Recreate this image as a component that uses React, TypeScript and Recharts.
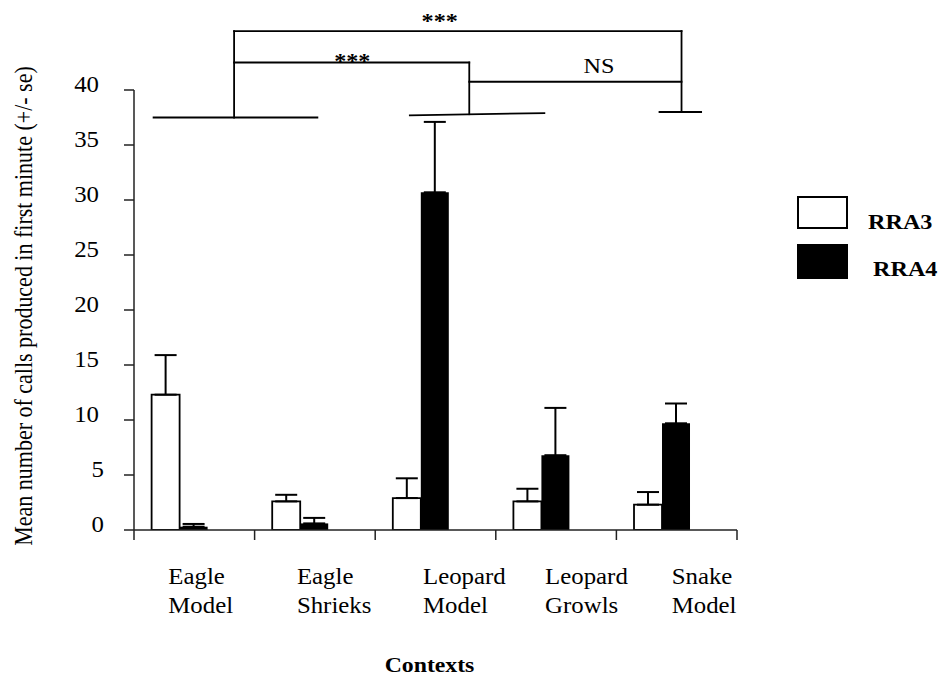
import React from 'react';
import { BarChart, Bar, XAxis, YAxis, ErrorBar, ReferenceLine, ReferenceDot, Legend } from 'recharts';

const FONT = '"Liberation Serif", "Times New Roman", serif';

// ---- data ----
const categories = ['Eagle Model', 'Eagle Shrieks', 'Leopard Model', 'Leopard Growls', 'Snake Model'];
const seriesNames = ['RRA3', 'RRA4'];
const rra3Means = [12.3, 2.6, 2.9, 2.6, 2.3];
const rra3Se = [3.6, 0.6, 1.8, 1.15, 1.15];
const rra4Means = [0.3, 0.6, 30.7, 6.8, 9.7];
const rra4Se = [0.25, 0.5, 6.4, 4.3, 1.8];
const yTicks = [0, 5, 10, 15, 20, 25, 30, 35, 40];
// numeric helper axis: integers = category boundaries, halves = category centres
const xBoundaryTicks = [0, 1, 2, 3, 4, 5];
const xCenterTicks = [0.5, 1.5, 2.5, 3.5, 4.5];

// significance brackets (x in category units, y in calls)
const groupLines = [
  { x1: 0.155, y1: 37.5, x2: 1.528, y2: 37.5 },
  { x1: 2.28, y1: 37.7, x2: 3.41, y2: 37.9 },
  { x1: 4.35, y1: 38.0, x2: 4.71, y2: 38.0 },
];
const bracketLines = [
  { x1: 0.83, y1: 37.5, x2: 0.83, y2: 45.36 },
  { x1: 0.83, y1: 45.36, x2: 4.54, y2: 45.36 },
  { x1: 4.54, y1: 45.36, x2: 4.54, y2: 38.0 },
  { x1: 0.83, y1: 42.5, x2: 2.78, y2: 42.5 },
  { x1: 2.78, y1: 42.5, x2: 2.78, y2: 37.8 },
  { x1: 2.78, y1: 40.75, x2: 4.54, y2: 40.75 },
];
const sigLabels = [
  { x: 2.535, y: 45.6, text: '***' },
  { x: 1.81, y: 42.0, text: '***' },
  { x: 3.856, y: 41.57, text: 'NS' },
];

const data = categories.map((name, i) => ({
  name,
  rra3: rra3Means[i],
  rra3Err: [0, rra3Se[i]],
  rra4: rra4Means[i],
  rra4Err: [0, rra4Se[i]],
}));

const xTicks = [...xBoundaryTicks, ...xCenterTicks].sort((a, b) => a - b);
const labelShift = [-26, -18, -12.5, -11, -5];
const FS = 23;

const XTick = (props: any) => {
  const { x, y, payload } = props;
  const v = payload.value;
  if (Number.isInteger(v)) {
    return <line x1={x} y1={y} x2={x} y2={y + 10} stroke="#222" strokeWidth={1.5} />;
  }
  const i = Math.floor(v);
  const words = categories[i].split(' ');
  const lx = x + labelShift[i];
  return (
    <g>
      {words.map((w, k) => (
        <text
          key={k}
          transform={`translate(${lx},${y + 53.5 + k * 29}) scale(1.08,1)`}
          fontSize={FS}
          fontFamily={FONT}
          fill="#000"
        >
          {w}
        </text>
      ))}
    </g>
  );
};

const YTick = (props: any) => {
  const { x, y, payload } = props;
  const s = String(payload.value);
  const dx = s.length === 1 ? 5 : 0;
  return (
    <text
      transform={`translate(${x + dx},${y + 2}) scale(1.08,1)`}
      textAnchor="end"
      fontSize={FS}
      fontFamily={FONT}
      fill="#000"
    >
      {s}
    </text>
  );
};

const YLabel = (props: any) => {
  const vb = props.viewBox || { x: 0, y: 90, width: 134, height: 440 };
  const cx = vb.x + 32;
  const cy = vb.y + vb.height / 2 - 4;
  return (
    <text
      transform={`translate(${cx},${cy}) scale(1.1,1) rotate(-90)`}
      textAnchor="middle"
      fontSize={22}
      fontFamily={FONT}
      fill="#000"
    >
      Mean number of calls produced in first minute (+/- se)
    </text>
  );
};

const XLabel = (props: any) => {
  const vb = props.viewBox || { x: 134, y: 530, width: 603, height: 149 };
  const cx = vb.x + vb.width / 2 - 6;
  return (
    <text
      transform={`translate(${cx},${vb.y + 142}) scale(1.08,1)`}
      textAnchor="middle"
      fontSize={22}
      fontWeight="bold"
      fontFamily={FONT}
      fill="#000"
    >
      Contexts
    </text>
  );
};

const LegendBox = () => (
  <div style={{ position: 'relative', width: 144, height: 90, fontFamily: FONT, fontWeight: 'bold', fontSize: 21 }}>
    <div
      style={{
        position: 'absolute', left: 0, top: 0, width: 51, height: 33,
        boxSizing: 'border-box', border: '2px solid #000', background: '#fff',
      }}
    />
    <span
      style={{
        position: 'absolute', left: 71, top: 15.7, lineHeight: '21px', whiteSpace: 'nowrap',
        transform: 'scaleX(1.15)', transformOrigin: 'left center', color: '#000',
      }}
    >
      {seriesNames[0]}
    </span>
    <div style={{ position: 'absolute', left: 0, top: 48, width: 51, height: 35, background: '#000' }} />
    <span
      style={{
        position: 'absolute', left: 76, top: 63.4, lineHeight: '21px', whiteSpace: 'nowrap',
        transform: 'scaleX(1.15)', transformOrigin: 'left center', color: '#000',
      }}
    >
      {seriesNames[1]}
    </span>
  </div>
);

const TextShape = (text: string) => (p: any) => (
  <text
    transform={`translate(${p.cx},${p.cy}) scale(1.1,1)`}
    textAnchor="middle"
    fontSize={22}
    fontWeight={text === 'NS' ? 'normal' : 'bold'}
    fontFamily={FONT}
    fill="#000"
  >
    {text}
  </text>
);

export default function App() {
  return (
    <div style={{ position: 'absolute', left: 0, top: 0, width: 941, height: 679, background: '#fff' }}>
      <BarChart
        width={941}
        height={679}
        data={data}
        margin={{ top: 90, right: 60, bottom: 0, left: 0 }}
        barCategoryGap="14.6%"
        barGap={0}
      >
        <XAxis
          xAxisId="num"
          dataKey="slot"
          type="number"
          domain={[0, 5]}
          allowDataOverflow
          ticks={xTicks}
          interval={0}
          height={149}
          tickSize={0}
          tickMargin={0}
          tickLine={false}
          axisLine={{ stroke: '#222', strokeWidth: 1.5 }}
          tick={<XTick />}
          label={<XLabel />}
        />
        <XAxis xAxisId="cat" dataKey="name" type="category" hide height={0} />
        <YAxis
          type="number"
          domain={[0, 40]}
          allowDataOverflow
          ticks={yTicks}
          interval={0}
          width={134}
          tickSize={10}
          tickMargin={25}
          tickLine={{ stroke: '#222', strokeWidth: 1.5 }}
          axisLine={{ stroke: '#222', strokeWidth: 1.5 }}
          tick={<YTick />}
          label={<YLabel />}
        />
        <Legend
          layout="vertical"
          align="right"
          verticalAlign="middle"
          width={144}
          wrapperStyle={{ left: 797, top: 196, width: 144 }}
          content={<LegendBox />}
        />
        <Bar xAxisId="cat" dataKey="rra3" name={seriesNames[0]} fill="#fff" stroke="#000" strokeWidth={1.8} isAnimationActive={false}>
          <ErrorBar dataKey="rra3Err" width={11} stroke="#000" strokeWidth={2} direction="y" />
        </Bar>
        <Bar xAxisId="cat" dataKey="rra4" name={seriesNames[1]} fill="#000" isAnimationActive={false}>
          <ErrorBar dataKey="rra4Err" width={11} stroke="#000" strokeWidth={2} direction="y" />
        </Bar>
        <Bar xAxisId="cat" dataKey="spacer" legendType="none" fill="none" isAnimationActive={false} />
        {groupLines.map((s, i) => (
          <ReferenceLine
            key={`g${i}`}
            xAxisId="num"
            ifOverflow="visible"
            segment={[{ x: s.x1, y: s.y1 }, { x: s.x2, y: s.y2 }]}
            stroke="#000"
            strokeWidth={1.8}
          />
        ))}
        {bracketLines.map((s, i) => (
          <ReferenceLine
            key={`b${i}`}
            xAxisId="num"
            ifOverflow="visible"
            segment={[{ x: s.x1, y: s.y1 }, { x: s.x2, y: s.y2 }]}
            stroke="#000"
            strokeWidth={1.8}
            strokeLinecap="square"
          />
        ))}
        {sigLabels.map((l, i) => (
          <ReferenceDot
            key={`l${i}`}
            xAxisId="num"
            x={l.x}
            y={l.y}
            r={0}
            ifOverflow="visible"
            shape={TextShape(l.text)}
          />
        ))}
      </BarChart>
    </div>
  );
}
